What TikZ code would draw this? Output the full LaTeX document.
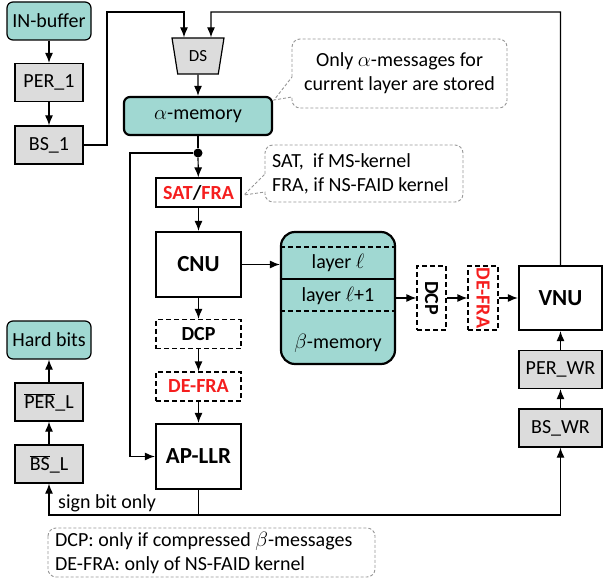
\documentclass[tikz,border=0pt]{standalone}
\usepackage{fontspec}
\setmainfont{Carlito}
\usepackage{graphicx}
\usepackage{tikz}
\usetikzlibrary{shapes,arrows.meta,positioning,calc}
\definecolor{memteal}{RGB}{160,216,210}
\definecolor{regray}{RGB}{220,220,220}
\definecolor{notegray}{RGB}{150,150,150}
\definecolor{optred}{RGB}{245,30,30}
\newcommand{\ovl}[1]{$\overline{\mbox{#1}}$}

\tikzset{
  blk/.style={draw, line width=1.2pt, minimum width=68pt, minimum height=38pt, inner sep=2pt},
  mem/.style={blk, fill=memteal, rounded corners=6pt},
  perm/.style={blk, fill=regray},
  core/.style={draw, line width=2.2pt, minimum width=85pt, minimum height=65pt, inner sep=2pt,
    font=\fontsize{23}{27}\selectfont\bfseries},
  opt/.style={draw, dash pattern=on 5pt off 3pt, line width=1.2pt, minimum width=85pt,
    minimum height=29pt, inner sep=0pt, font=\fontsize{20}{24}\selectfont\bfseries},
  note/.style={draw=notegray, dash pattern=on 3pt off 2pt, line width=0.9pt, rounded corners=8pt},
  wire/.style={line width=1.2pt},
  arr/.style={wire, -{Latex[length=10pt,width=8pt]}},
}

\begin{document}
\begin{tikzpicture}[x=1pt,y=-1pt,font=\fontsize{20}{24}\selectfont]
  \useasboundingbox (0,0) rectangle (603,583);

  % input side
  \node[mem, minimum width=84pt] (inbuf) at (49,21) {IN-buffer};
  \node[perm] (per1) at (49,82.5) {PER\_1};
  \node[perm] (bs1) at (49,145) {BS\_1};
  \draw[arr] (inbuf) -- (per1);
  \draw[arr] (per1) -- (bs1);

  % alpha memory
  \node[draw, fill=regray, line width=1.2pt, trapezium, shape border rotate=180,
    trapezium stretches=true, trapezium angle=77, minimum width=52pt, minimum height=36pt,
    inner sep=0pt, font=\fontsize{17}{20}\selectfont] (ds) at (198,56) {DS};
  \node[mem, line width=2.2pt, minimum width=148pt] (amem) at (198,116) {$\alpha$-memory};
  \node[circle, fill, inner sep=0pt, minimum size=9pt] (dot) at (198,153) {};
  \draw[arr] (bs1.east) -| (107,12) -| ([xshift=-14pt]ds.north);
  \draw[arr] (ds) -- (amem);
  \draw[wire] (amem) -- (dot);

  % check node column
  \node[opt, solid] (satfra) at (198.5,192.5) {\textcolor{optred}{SAT}/\textcolor{optred}{FRA}};
  \node[core] (cnu) at (198.5,264.5) {CNU};
  \node[opt] (dcp1) at (198.5,334) {DCP};
  \node[opt, text=optred] (defra1) at (198.5,386.5) {DE-FRA};
  \node[core] (apllr) at (198.5,456.5) {AP-LLR};
  \draw[arr] (dot) -- (satfra);
  \draw[arr] (satfra) -- (cnu);
  \draw[arr] (cnu) -- (dcp1);
  \draw[arr] (dcp1) -- (defra1);
  \draw[arr] (defra1) -- (apllr);
  \draw[arr] (dot) -- ++(-68,0) |- (apllr.west);

  % beta memory
  \node[mem, line width=2.2pt, minimum width=114pt, minimum height=132pt, rounded corners=14pt]
    (bmem) at (338,298) {};
  \draw[wire, dash pattern=on 5pt off 3pt] (bmem.west |- 0,247) -- (bmem.east |- 0,247);
  \draw[wire] (bmem.west |- 0,279) -- (bmem.east |- 0,279);
  \draw[wire, dash pattern=on 5pt off 3pt] (bmem.west |- 0,311) -- (bmem.east |- 0,311);
  \node (lyr1) at (338,263) {layer $\ell$};
  \node (lyr2) at (338,296) {layer $\ell$+1};
  \node (blab) at (338,343) {$\beta$-memory};
  \draw[arr] (cnu.east) -- (cnu.east -| bmem.west);

  % variable node side
  \node[opt, minimum width=29pt, minimum height=64pt] (dcp2) at (431.5,298) {\rotatebox{-90}{DCP}};
  \node[opt, minimum width=30pt, minimum height=64pt, text=optred] (defra2) at (483,298) {\rotatebox{-90}{DE-FRA}};
  \node[core, minimum width=83pt, minimum height=64pt] (vnu) at (560.5,298) {VNU};
  \node[perm, minimum width=83pt] (perwr) at (560.5,369.5) {PER\_WR};
  \node[perm, minimum width=83pt] (bswr) at (560.5,428) {BS\_WR};
  \draw[arr] (bmem.east) -- (dcp2.west);
  \draw[arr] (dcp2) -- (defra2);
  \draw[arr] (defra2) -- (vnu);
  \draw[arr] (perwr) -- (vnu);
  \draw[arr] (bswr) -- (perwr);
  \draw[arr] (vnu.north) |- (211,12) -- ([xshift=13pt]ds.north);

  % hard decision output
  \node[mem, minimum width=84pt] (hard) at (49,340) {Hard bits};
  \node[perm] (perl) at (49,402) {\ovl{PER}\_L};
  \node[perm] (bsl) at (49,464) {\ovl{BS}\_L};
  \draw[arr] (bsl) -- (perl);
  \draw[arr] (perl) -- (hard);
  \coordinate (bus) at (198.5,515);
  \draw[wire] (apllr) -- (bus);
  \draw[arr] (bus) -| (bsl);
  \draw[arr] (bus) -| (bswr);
  \node[anchor=west, inner sep=0pt] (sign) at (58,503) {sign bit only};

  % notes
  \node[align=center, inner sep=0pt] (note1) at (399.5,73) {Only $\alpha$-messages for\\current layer are stored};
  \draw[note] (292,77) -- (292,39) -- (507,39) -- (507,108) -- (292,108) [sharp corners] -- (292,97) -- (274,100) -- cycle;
  \node[align=left, anchor=west, inner sep=0pt] (note2) at (272,174) {SAT,\ \ if MS-kernel\\FRA, if NS-FAID kernel};
  \draw[note] (265,174) -- (265,145) -- (463,145) -- (463,202) -- (265,202) [sharp corners] -- (265,192) -- (244,195) -- cycle;
  \node[align=left, anchor=west, inner sep=0pt] (note3) at (55,553) {DCP: only if compressed $\beta$-messages\\DE-FRA: only of NS-FAID kernel};
  \draw[note] (48,528) rectangle (375,577);
\end{tikzpicture}
\end{document}
